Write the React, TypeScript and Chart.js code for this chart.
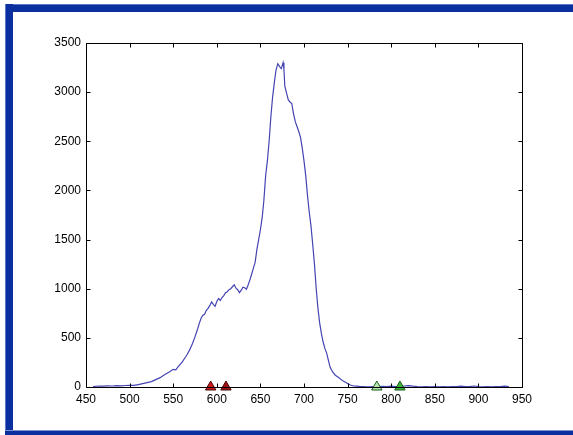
import React, { useEffect, useRef } from "react";
import { Chart, registerables } from "chart.js";

Chart.register(...registerables);

const wavelengths = [
  458, 465, 470, 475, 480, 485, 490, 495, 500, 505, 510, 515, 520, 525, 530, 535, 540, 545, 550, 553,
  556, 560, 563, 566, 569, 572, 575, 578, 580, 582, 584, 586, 588, 590, 592, 594, 596, 598, 600, 602,
  604, 606, 608, 610, 612, 614, 616, 618, 620, 622, 624, 626, 628, 630, 632, 634, 636, 638, 640, 642,
  644, 646, 648, 650, 652, 654, 656, 658, 660, 662, 664, 666, 668, 670, 672, 674, 676, 677, 678, 680,
  682, 684, 686, 688, 690, 692, 694, 696, 698, 700, 702, 704, 706, 708, 710, 712, 714, 716, 718, 720,
  722, 724, 726, 728, 730, 733, 736, 740, 745, 749, 753, 757, 760, 765, 770, 775, 780, 785, 790, 795,
  800, 805, 810, 815, 820, 825, 830, 835, 840, 845, 850, 855, 860, 865, 870, 875, 880, 885, 890, 895,
  900, 905, 910, 915, 920, 925, 930, 935,
];

const intensities = [
  5, 10, 8, 12, 10, 14, 12, 15, 18, 16, 25, 35, 45, 55, 75, 95, 125, 150, 180, 175,
  210, 250, 290, 330, 380, 440, 510, 590, 650, 700, 730, 740, 780, 800, 830, 865, 840, 820, 870, 900,
  880, 910, 930, 960, 970, 990, 1000, 1020, 1040, 1005, 990, 960, 985, 1015, 1010, 995, 1040, 1090, 1150, 1210,
  1270, 1400, 1500, 1600, 1720, 1900, 2150, 2300, 2500, 2750, 2950, 3100, 3230, 3290, 3260, 3240, 3300, 3230, 3060, 2990,
  2920, 2900, 2885, 2780, 2700, 2650, 2600, 2540, 2430, 2300, 2150, 1950, 1780, 1640, 1450, 1250, 1000, 800, 650, 540,
  455, 390, 345, 270, 200, 150, 120, 95, 60, 40, 20, 10, 8, 5, 3, 2, 5, 3, 6, 4,
  8, 5, 6, 10, 14, 8, 4, 2, 3, 2, 4, 2, 3, 2, 5, 3, 8, 4, 3, 10,
  4, 2, 3, 2, 3, 4, 8, 3,
];

const redMarkers = [593, 610.5];
const redFill = ["#d01818", "#a01212"];
const greenMarkers = [783.5, 810];
const greenFill = ["#b8e6b0", "#3cb43c"];

const xTicks = [450, 500, 550, 600, 650, 700, 750, 800, 850, 900, 950];
const yTicks = [0, 500, 1000, 1500, 2000, 2500, 3000, 3500];

const boxPlugin = {
  id: "boxTicks",
  afterDatasetsDraw(chart: any) {
    const { ctx, chartArea, scales } = chart;
    const xs = scales.x;
    const ys = scales.y;
    const L = Math.round(chartArea.left) + 0.5;
    const R = Math.round(chartArea.right) + 0.5;
    const T = Math.round(chartArea.top) + 0.5;
    const B = Math.round(chartArea.bottom) + 0.5;
    const len = 4;
    ctx.save();
    ctx.strokeStyle = "#000";
    ctx.lineWidth = 1;
    ctx.beginPath();
    ctx.rect(L, T, R - L, B - T);
    xTicks.forEach((v) => {
      const p = Math.round(xs.getPixelForValue(v)) + 0.5;
      ctx.moveTo(p, B);
      ctx.lineTo(p, B - len);
      ctx.moveTo(p, T);
      ctx.lineTo(p, T + len);
    });
    yTicks.forEach((v) => {
      const p = Math.round(ys.getPixelForValue(v)) + 0.5;
      ctx.moveTo(L, p);
      ctx.lineTo(L + len, p);
      ctx.moveTo(R, p);
      ctx.lineTo(R - len, p);
    });
    ctx.stroke();
    ctx.restore();
  },
};

export default function App() {
  const ref = useRef<HTMLCanvasElement | null>(null);

  useEffect(() => {
    if (!ref.current) return;
    const lineData = wavelengths.map((w, i) => ({ x: w, y: intensities[i] }));
    const tickFont = { family: "'Liberation Sans', Arial, sans-serif", size: 12 };
    const chart = new Chart(ref.current, {
      type: "scatter",
      data: {
        datasets: [
          {
            data: lineData,
            showLine: true,
            borderColor: "#4444b4",
            borderWidth: 1.2,
            pointRadius: 0,
            tension: 0,
            order: 2,
          },
          {
            data: redMarkers.map((w) => ({ x: w, y: 0 })),
            pointStyle: "triangle",
            pointRadius: 6,
            backgroundColor: redFill,
            borderColor: "#4a0808",
            borderWidth: 1,
            clip: false,
            order: 0,
          } as any,
          {
            data: greenMarkers.map((w) => ({ x: w, y: 0 })),
            pointStyle: "triangle",
            pointRadius: 6,
            backgroundColor: greenFill,
            borderColor: "#1f5a1f",
            borderWidth: 1,
            clip: false,
            order: 0,
          } as any,
        ],
      },
      plugins: [boxPlugin],
      options: {
        animation: false,
        responsive: false,
        devicePixelRatio: 1,
        layout: { padding: { left: 0, top: 43, right: 51, bottom: 18 } },
        plugins: { legend: { display: false }, tooltip: { enabled: false } },
        scales: {
          x: {
            type: "linear",
            min: 450,
            max: 950,
            afterFit: (s: any) => {
              s.height = 30;
            },
            afterBuildTicks: (s: any) => {
              s.ticks = xTicks.map((v) => ({ value: v }));
            },
            grid: { display: false, drawTicks: false },
            border: { display: false },
            ticks: {
              color: "#000",
              padding: 5,
              maxRotation: 0,
              autoSkip: false,
              font: tickFont,
              callback: (v: any) => String(v),
            },
          },
          y: {
            type: "linear",
            min: 0,
            max: 3500,
            afterFit: (s: any) => {
              s.width = 86;
            },
            afterBuildTicks: (s: any) => {
              s.ticks = yTicks.map((v) => ({ value: v }));
            },
            grid: { display: false, drawTicks: false },
            border: { display: false },
            ticks: {
              color: "#000",
              padding: 5,
              autoSkip: false,
              font: tickFont,
              callback: (v: any) => String(v),
            },
          },
        },
      },
    });
    return () => chart.destroy();
  }, []);

  const blue = "#0b2f9e";
  return (
    <div style={{ position: "fixed", left: 0, top: 0, width: 573, height: 435, background: "#fff", overflow: "hidden" }}>
      <canvas ref={ref} width={573} height={435} style={{ position: "absolute", left: 0, top: 0, width: 573, height: 435 }} />
      <div style={{ position: "absolute", left: 5, top: 4, width: 568, height: 8, background: blue, borderTop: "1px solid #5a78c8", boxSizing: "border-box" }} />
      <div style={{ position: "absolute", left: 5, top: 4, width: 8, height: 431, background: blue, borderLeft: "1px solid #5a78c8", boxSizing: "border-box" }} />
      <div style={{ position: "absolute", left: 5, top: 430, width: 568, height: 5, background: blue, borderTop: "1px solid #7a90d0", boxSizing: "border-box" }} />
    </div>
  );
}
